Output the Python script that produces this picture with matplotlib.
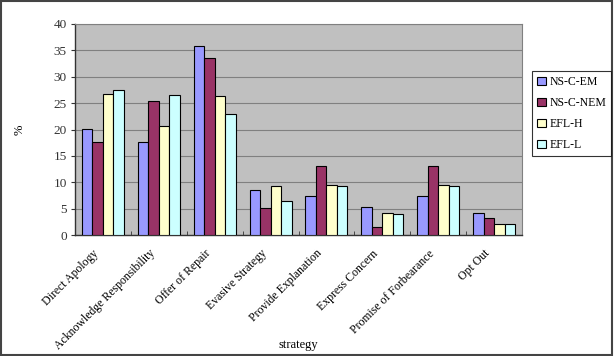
import matplotlib
matplotlib.use("Agg")
import matplotlib.pyplot as plt
import matplotlib.transforms as mtransforms
import numpy as np
from matplotlib.patches import Rectangle

categories = ["Direct Apology", "Acknowledge Responsibility", "Offer of Repair",
              "Evasive Strategy", "Provide Explanation", "Express Concern",
              "Promise of Forbearance", "Opt Out"]
series_names = ["NS-C-EM", "NS-C-NEM", "EFL-H", "EFL-L"]
ns_c_em = [20.1, 17.6, 35.8, 8.5, 7.4, 5.4, 7.4, 4.1]
ns_c_nem = [17.6, 25.4, 33.6, 5.2, 13.0, 1.6, 13.0, 3.2]
efl_h = [26.8, 20.6, 26.4, 9.3, 9.4, 4.1, 9.4, 2.1]
efl_l = [27.5, 26.6, 23.0, 6.4, 9.2, 3.9, 9.2, 2.1]
colors = ["#9999FF", "#993366", "#FFFFCC", "#CCFFFF"]

plt.rcParams['font.family'] = ['Liberation Serif', 'DejaVu Serif']

fig = plt.figure(figsize=(6.14, 3.56), dpi=100)
ax = fig.add_axes([75/614, 1-235/356, (522-75)/614, (235-24)/356])
ax.set_facecolor("#C0C0C0")

x = np.arange(len(categories))
w = 0.1875
data = [ns_c_em, ns_c_nem, efl_h, efl_l]
for i, (vals, name, c) in enumerate(zip(data, series_names, colors)):
    ax.bar(x + (i - 1.5) * w, vals, width=w, color=c, edgecolor="black",
           linewidth=0.8, label=name, zorder=3)

ax.set_xlim(-0.5, len(categories) - 0.5)
ax.set_ylim(0, 40)
ax.set_yticks(range(0, 41, 5))
ax.yaxis.grid(True, color="#808080", linewidth=0.8, zorder=1)
ax.set_axisbelow(True)
ax.tick_params(axis='y', labelsize=9.5, length=3, direction='out', pad=3, colors='#333333')
ax.set_xticks(x)
ax.set_xticklabels(categories, rotation=45, ha='right', va='center',
                   rotation_mode='anchor', fontsize=8.5)
ax.tick_params(axis='x', length=0, pad=12)
offset = mtransforms.ScaledTranslation(-6/100, 0, fig.dpi_scale_trans)
for lbl in ax.get_xticklabels():
    lbl.set_transform(lbl.get_transform() + offset)
ax.set_xticks(np.arange(-0.5, len(categories), 1), minor=True)
ax.tick_params(axis='x', which='minor', length=3, direction='in', color='#333333')
for s in ["top", "right"]:
    ax.spines[s].set_color("#808080")
    ax.spines[s].set_linewidth(0.8)
for s in ["left", "bottom"]:
    ax.spines[s].set_color("#333333")
    ax.spines[s].set_linewidth(1.0)

fig.text(298/614, 1-345/356, "strategy", fontsize=9, ha='center', va='center')
fig.text(20/614, 1-130/356, "%", fontsize=9, ha='center', va='center', rotation=90)

leg = fig.legend(loc="upper left", bbox_to_anchor=(532/614, 1-71/356),
                 fontsize=8.5, frameon=True, fancybox=False, edgecolor="black",
                 handlelength=0.7, handleheight=0.7, handletextpad=0.3,
                 labelspacing=0.75, borderpad=0.45, borderaxespad=0)
leg.get_frame().set_linewidth(0.8)

fig.patches.append(Rectangle((0.002, 0.003), 0.995, 0.993, transform=fig.transFigure,
                             fill=False, edgecolor="#444444", linewidth=1.5))

fig.savefig("out.png", dpi=100)
